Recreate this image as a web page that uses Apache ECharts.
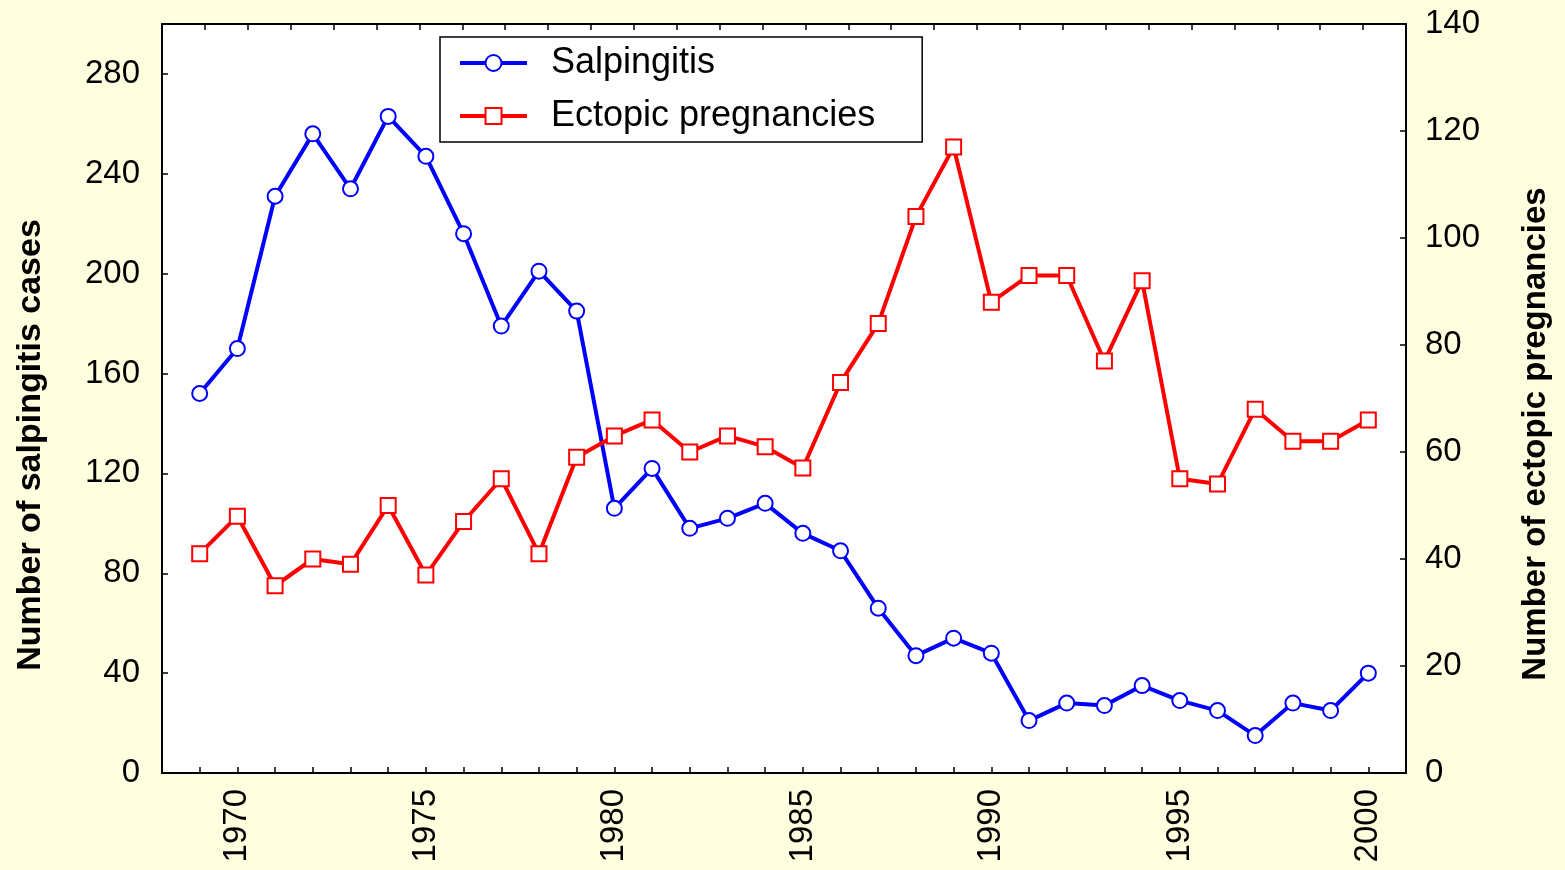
<!DOCTYPE html>
<html>
<head>
<meta charset="utf-8">
<script src="https://cdn.jsdelivr.net/npm/echarts@6/dist/echarts.min.js"></script>
<style>
  html, body { margin: 0; padding: 0; background: #FFFFE0; }
  #chart { width: 1565px; height: 870px; }
</style>
</head>
<body>
<div id="chart"></div>
<script>
const years = [1969, 1970, 1971, 1972, 1973, 1974, 1975, 1976, 1977, 1978, 1979, 1980, 1981, 1982, 1983, 1984,
  1985, 1986, 1987, 1988, 1989, 1990, 1991, 1992, 1993, 1994, 1995, 1996, 1997, 1998, 1999, 2000]
const salpingitis = [152, 170, 231, 256, 234, 263, 247, 216, 179, 201, 185, 106, 122, 98, 102, 108,
  96, 89, 66, 47, 54, 48, 21, 28, 27, 35, 29, 25, 15, 28, 25, 40]
const ectopic = [41, 48, 35, 40, 39, 50, 37, 47, 55, 41, 59, 63, 66, 60, 63, 61,
  57, 73, 84, 104, 117, 88, 93, 93, 77, 92, 55, 54, 68, 62, 62, 66]
const seriesNames = ['Salpingitis', 'Ectopic pregnancies']
const leftTitle = 'Number of salpingitis cases'
const rightTitle = 'Number of ectopic pregnancies'

const font = 'Liberation Sans, Arial, sans-serif'
const chart = echarts.init(document.getElementById('chart'))

// onZero off, otherwise the top frame axis drops onto y=0
const axisLine = { show: true, onZero: false, lineStyle: { color: '#000', width: 2 } }
const tick = { show: true, inside: true, length: 6, lineStyle: { color: '#000', width: 1.5 } }

const option = {
  backgroundColor: '#FFFFE0',
  animation: false,
  grid: {
    left: 162,
    right: 159,
    top: 24,
    bottom: 97,
    show: true,
    backgroundColor: '#fff',
    borderWidth: 0
  },
  legend: {
    left: 440,
    top: 37,
    orient: 'vertical',
    backgroundColor: '#fff',
    borderColor: '#000',
    borderWidth: 1.5,
    borderRadius: 0,
    padding: [8, 47, 8, 18],
    itemGap: 17,
    itemWidth: 67,
    itemHeight: 20,
    lineStyle: { width: 4 },
    itemStyle: { borderWidth: 2 },
    textStyle: { fontSize: 36, color: '#000', fontFamily: font, lineHeight: 36, padding: [0, 0, 0, 19] },
    data: seriesNames
  },
  graphic: [
    {
      type: 'text',
      x: 31,
      y: 445,
      rotation: Math.PI / 2,
      style: { text: leftTitle, font: 'bold 34px ' + font, fill: '#000', textAlign: 'center', textVerticalAlign: 'middle' }
    },
    {
      type: 'text',
      x: 1536,
      y: 434,
      rotation: Math.PI / 2,
      style: { text: rightTitle, font: 'bold 33px ' + font, fill: '#000', textAlign: 'center', textVerticalAlign: 'middle' }
    }
  ],
  xAxis: [
    {
      type: 'value',
      min: 1968,
      max: 2001,
      interval: 1,
      position: 'bottom',
      axisLine,
      axisTick: tick,
      splitLine: { show: false },
      axisLabel: {
        rotate: 90,
        margin: 16,
        fontSize: 33,
        color: '#000',
        fontFamily: font,
        formatter: v => (v % 5 === 0 ? String(v) : '')
      }
    },
    {
      // top frame with its own tick marks
      type: 'value',
      min: 0,
      max: 29,
      interval: 1,
      position: 'top',
      axisLine,
      axisTick: tick,
      splitLine: { show: false },
      axisLabel: { show: false }
    }
  ],
  yAxis: [
    {
      type: 'value',
      min: 0,
      max: 300,
      interval: 40,
      position: 'left',
      axisLine,
      axisTick: tick,
      splitLine: { show: false },
      axisLabel: { fontSize: 33, color: '#000', fontFamily: font, margin: 22, showMaxLabel: false }
    },
    {
      type: 'value',
      min: 0,
      max: 140,
      interval: 20,
      position: 'right',
      axisLine,
      axisTick: tick,
      splitLine: { show: false },
      axisLabel: { fontSize: 33, color: '#000', fontFamily: font, margin: 19 }
    }
  ],
  series: [
    {
      name: seriesNames[0],
      type: 'line',
      xAxisIndex: 0,
      yAxisIndex: 0,
      symbol: 'emptyCircle',
      symbolSize: 15,
      itemStyle: { color: '#0000FF', borderWidth: 2 },
      lineStyle: { color: '#0000FF', width: 4 },
      data: years.map((y, i) => [y, salpingitis[i]])
    },
    {
      name: seriesNames[1],
      type: 'line',
      xAxisIndex: 0,
      yAxisIndex: 1,
      symbol: 'emptyRect',
      symbolSize: 15,
      itemStyle: { color: '#FF0000', borderWidth: 2 },
      lineStyle: { color: '#FF0000', width: 4 },
      data: years.map((y, i) => [y, ectopic[i]])
    }
  ]
}
chart.setOption(option)
</script>
</body>
</html>
